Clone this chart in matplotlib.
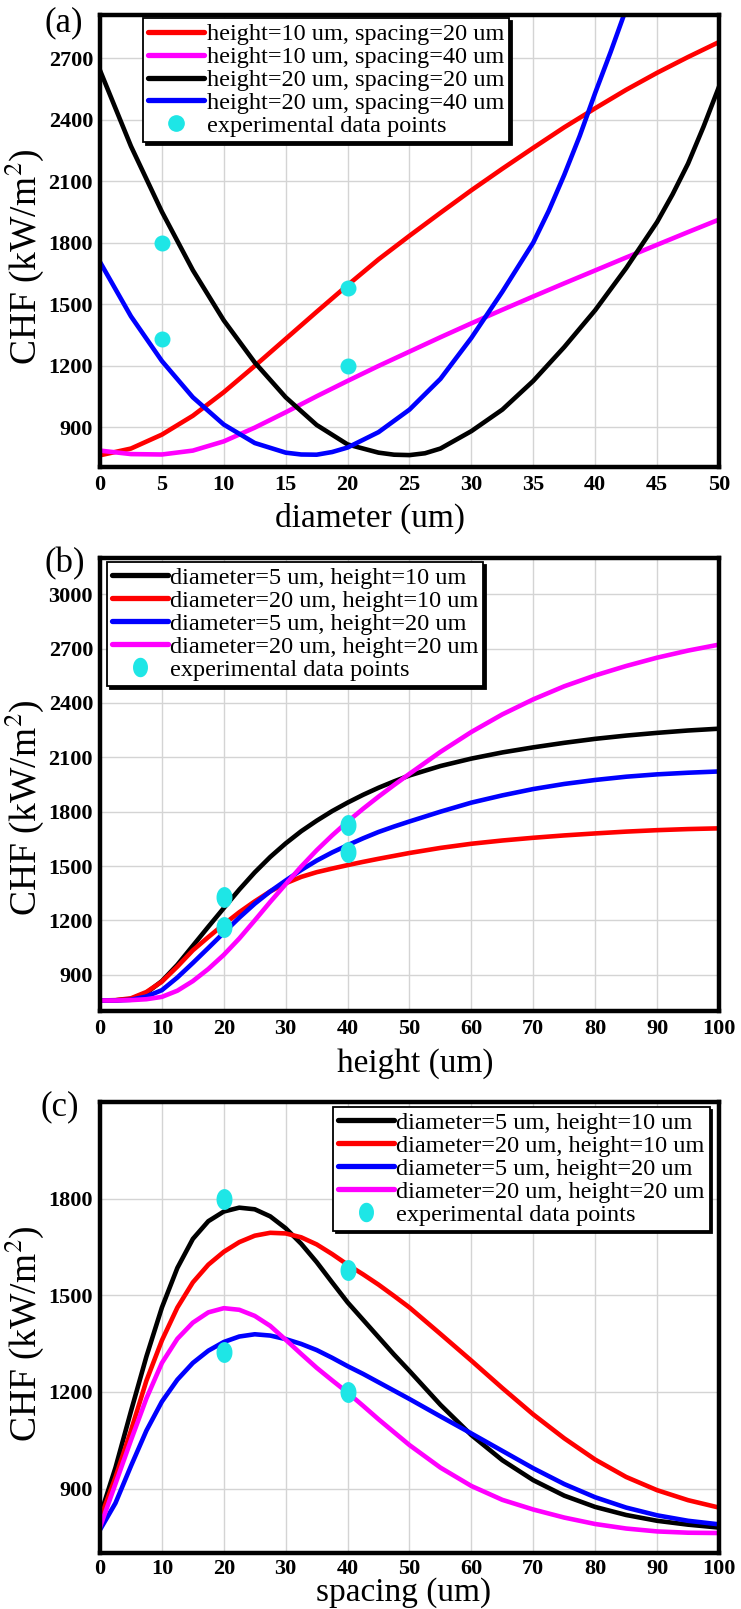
import matplotlib
matplotlib.use('Agg')
import matplotlib.pyplot as plt
from matplotlib.lines import Line2D
import numpy as np

plt.rcParams['font.family'] = ['Liberation Serif', 'DejaVu Serif']
plt.rcParams['mathtext.fontset'] = 'stix'

# ---------------- data ----------------
# panel (a): CHF vs diameter
diam = [0, 2.5, 5, 7.5, 10, 12.5, 15, 17.5, 20, 22.5, 25, 27.5, 30, 32.5, 35, 37.5, 40, 42.5, 45, 47.5, 50]
a_h10_s20 = [762, 795, 863, 955, 1070, 1198, 1330, 1462, 1592, 1718, 1833, 1945, 2055, 2160, 2262, 2362,
             2455, 2545, 2628, 2705, 2778]
a_h10_s40 = [785, 768, 766, 785, 830, 897, 972, 1050, 1125, 1198, 1268, 1338, 1406, 1472, 1537, 1601,
             1664, 1727, 1789, 1851, 1912]
diam_k = [0, 2.5, 5, 7.5, 10, 12.5, 15, 17.5, 20, 22.5, 23.75, 25, 26.25, 27.5, 30, 32.5, 35, 37.5,
          40, 42.5, 45, 46.25, 47.5, 48.75, 50]
a_h20_s20 = [2640, 2270, 1950, 1665, 1420, 1215, 1045, 910, 815, 775, 765, 763, 772, 795, 880, 985, 1125, 1290,
             1470, 1675, 1900, 2035, 2185, 2365, 2560]
diam_b = [0, 2.5, 5, 7.5, 10, 12.5, 15, 16.25, 17.5, 18.75, 20, 22.5, 25, 27.5, 30, 32.5, 35, 36.25, 37.5,
          38.75, 40, 41.25, 42.5]
a_h20_s40 = [1705, 1440, 1222, 1045, 912, 822, 775, 766, 765, 778, 800, 875, 985, 1135, 1335, 1560, 1800, 1955,
             2130, 2320, 2530, 2730, 2940]
a_exp_x = [5, 5, 20, 20]
a_exp_y = [1800, 1330, 1580, 1200]
a_labels = ['height=10 um, spacing=20 um', 'height=10 um, spacing=40 um',
            'height=20 um, spacing=20 um', 'height=20 um, spacing=40 um']

# panel (b): CHF vs height
height = [0, 2.5, 5, 7.5, 10, 12.5, 15, 17.5, 20, 22.5, 25, 27.5, 30, 32.5, 35, 37.5, 40, 42.5, 45, 47.5, 50,
          55, 60, 65, 70, 75, 80, 85, 90, 95, 100]
b_d5_h10 = [758, 759, 766, 800, 865, 955, 1060, 1165, 1268, 1370, 1465, 1550, 1625, 1692, 1750, 1803,
            1850, 1893, 1932, 1967, 2000, 2052, 2093, 2127, 2155, 2180, 2202, 2220, 2235, 2248, 2258]
b_d20_h10 = [758, 760, 770, 805, 862, 945, 1035, 1108, 1178, 1245, 1305, 1360, 1405, 1440, 1466, 1486,
             1505, 1523, 1540, 1556, 1572, 1600, 1623, 1641, 1656, 1669, 1680, 1690, 1698, 1704, 1708]
b_d5_h20 = [758, 758, 762, 780, 815, 885, 965, 1048, 1132, 1215, 1292, 1360, 1420, 1478, 1530, 1575,
            1615, 1653, 1688, 1718, 1746, 1800, 1850, 1890, 1925, 1953, 1975, 1993, 2006, 2015, 2022]
b_d20_h20 = [758, 758, 760, 765, 778, 812, 865, 932, 1010, 1100, 1200, 1302, 1400, 1497, 1587, 1669,
             1745, 1816, 1883, 1947, 2009, 2130, 2240, 2337, 2420, 2492, 2552, 2604, 2650, 2689, 2722]
b_exp_x = [20, 20, 40, 40]
b_exp_y = [1330, 1165, 1725, 1580]

# panel (c): CHF vs spacing
spacing = [0, 2.5, 5, 7.5, 10, 12.5, 15, 17.5, 20, 22.5, 25, 27.5, 30, 32.5, 35, 37.5, 40, 42.5,
           45, 47.5, 50, 55, 60, 65, 70, 75, 80, 85, 90, 95, 100]
c_d5_h10 = [815, 965, 1140, 1310, 1462, 1585, 1675, 1730, 1760, 1772, 1767, 1745, 1708, 1660, 1603, 1540, 1478,
            1424, 1370, 1316, 1265, 1160, 1066, 988, 926, 878, 843, 818, 800, 788, 779]
c_d20_h10 = [805, 935, 1080, 1235, 1360, 1462, 1540, 1595, 1635, 1665, 1685, 1694, 1692, 1680, 1658, 1628, 1595,
             1565, 1533, 1498, 1462, 1380, 1297, 1212, 1130, 1056, 990, 936, 895, 864, 841]
c_d5_h20 = [772, 855, 970, 1080, 1170, 1238, 1290, 1328, 1355, 1372, 1379, 1375, 1364, 1349, 1330, 1306, 1280,
            1256, 1230, 1204, 1178, 1124, 1071, 1017, 963, 914, 873, 841, 817, 800, 789]
c_d20_h20 = [780, 915, 1050, 1180, 1290, 1365, 1415, 1447, 1460, 1455, 1436, 1405, 1362, 1318, 1275, 1236, 1198,
             1157, 1115, 1075, 1035, 965, 908, 865, 835, 810, 790, 776, 767, 763, 762]
c_exp_x = [20, 20, 40, 40]
c_exp_y = [1800, 1325, 1580, 1200]
bc_labels = ['diameter=5 um, height=10 um', 'diameter=20 um, height=10 um',
             'diameter=5 um, height=20 um', 'diameter=20 um, height=20 um']
exp_label = 'experimental data points'

# ---------------- style ----------------
RED, MAG, BLK, BLU = '#ff0000', '#ff00ff', '#000000', '#0000ff'
CYAN = '#1ee6e6'
LW = 3.3
XTICKFS = 16
YTICKFS = 16
XLABFS = 24
YLABFS = 27
LEGFS = 17.5

fig = plt.figure(figsize=(7.41, 16.09), dpi=100)
L, W = 0.13495, 0.83536
ax_a = fig.add_axes([L, 0.70976, W, 0.28092])
ax_b = fig.add_axes([L, 0.37166, W, 0.28154])
ax_c = fig.add_axes([L, 0.03480, W, 0.28030])

t = np.linspace(0, 2 * np.pi, 40)
ellipse = list(zip(0.75 * np.cos(t), np.sin(t)))


def style(ax, xlim, ylim, xticks, yticks, xlabel, xl_pos, yl_pos, xl_va='center', xpad=6):
    ax.set_xlim(*xlim)
    ax.set_ylim(*ylim)
    ax.set_xticks(xticks, [str(v) for v in xticks], fontweight='bold', fontsize=XTICKFS)
    ax.set_yticks(yticks, [str(v) for v in yticks], fontweight='bold', fontsize=YTICKFS)
    ax.tick_params(axis='y', length=0, pad=5)
    ax.tick_params(axis='x', length=0, pad=xpad)
    ax.grid(True, color='#d4d4d4', linewidth=1.0)
    ax.set_axisbelow(True)
    for s in ax.spines.values():
        s.set_linewidth(3.2)
        s.set_color('black')
    ax.set_xlabel(xlabel, fontsize=XLABFS)
    ax.xaxis.set_label_coords(*xl_pos)
    ax.xaxis.label.set_va(xl_va)
    ax.set_ylabel('CHF (kW/m$^{2}$)', fontsize=YLABFS)
    ax.yaxis.set_label_coords(*yl_pos)
    ax.yaxis.label.set_va('center')


def legend(ax, handles, loc, anchor):
    leg = ax.legend(handles=handles, loc=loc, bbox_to_anchor=anchor, fontsize=LEGFS,
                    frameon=True, fancybox=False, framealpha=1, edgecolor='black',
                    shadow={'color': 'black', 'alpha': 1},
                    borderpad=0.2, labelspacing=0.04, handlelength=2.3, handletextpad=0.1,
                    borderaxespad=0)
    leg.get_frame().set_linewidth(1.3)
    leg.set_zorder(10)
    return leg


def handles_for(colors, labels, exp_marker, ms):
    hs = [Line2D([], [], color=c, lw=LW + 0.5, label=l, solid_capstyle='round') for c, l in zip(colors, labels)]
    hs.append(Line2D([], [], color=CYAN, marker=exp_marker, ms=ms, ls='none', label=exp_label))
    return hs


# ---- (a)
ax = ax_a
ax.plot(diam, a_h10_s20, color=RED, lw=LW)
ax.plot(diam, a_h10_s40, color=MAG, lw=LW)
ax.plot(diam_k, a_h20_s20, color=BLK, lw=LW)
ax.plot(diam_b, a_h20_s40, color=BLU, lw=LW)
ax.plot(a_exp_x, a_exp_y, ls='none', marker='o', ms=10.5, color=CYAN, zorder=5)
style(ax, (0, 50), (705, 2910), list(range(0, 51, 5)), list(range(900, 2701, 300)),
      'diameter (um)', (0.436, -0.113), (-0.123, 0.465))
legend(ax, handles_for([RED, MAG, BLK, BLU], a_labels, 'o', 11), 'upper left', (0.07, 0.993))

# ---- (b)
ax = ax_b
ax.plot(height, b_d5_h10, color=BLK, lw=LW)
ax.plot(height, b_d20_h10, color=RED, lw=LW)
ax.plot(height, b_d5_h20, color=BLU, lw=LW)
ax.plot(height, b_d20_h20, color=MAG, lw=LW)
ax.plot(b_exp_x, b_exp_y, ls='none', marker=ellipse, ms=14, color=CYAN, zorder=5)
style(ax, (0, 100), (700, 3200), list(range(0, 101, 10)), list(range(900, 3001, 300)),
      'height (um)', (0.509, -0.116), (-0.123, 0.448))
legend(ax, handles_for([BLK, RED, BLU, MAG], bc_labels, ellipse, 13), 'upper left', (0.011, 0.991))

# ---- (c)
ax = ax_c
ax.plot(spacing, c_d5_h10, color=BLK, lw=LW)
ax.plot(spacing, c_d20_h10, color=RED, lw=LW)
ax.plot(spacing, c_d5_h20, color=BLU, lw=LW)
ax.plot(spacing, c_d20_h20, color=MAG, lw=LW)
ax.plot(c_exp_x, c_exp_y, ls='none', marker=ellipse, ms=14, color=CYAN, zorder=5)
style(ax, (0, 100), (700, 2100), list(range(0, 101, 10)), list(range(900, 1801, 300)),
      'spacing (um)', (0.49, -0.122), (-0.123, 0.486), xl_va='bottom', xpad=4)
legend(ax, handles_for([BLK, RED, BLU, MAG], bc_labels, ellipse, 13), 'upper right', (0.985, 0.989))

# panel labels
fig.text(45 / 741, 1 - 6 / 1609, '(a)', fontsize=25, va='top', ha='left')
fig.text(45 / 741, 1 - 547 / 1609, '(b)', fontsize=25, va='top', ha='left')
fig.text(40 / 741, 1 - 1090 / 1609, '(c)', fontsize=25, va='top', ha='left')

fig.savefig('out.png', dpi=100)
